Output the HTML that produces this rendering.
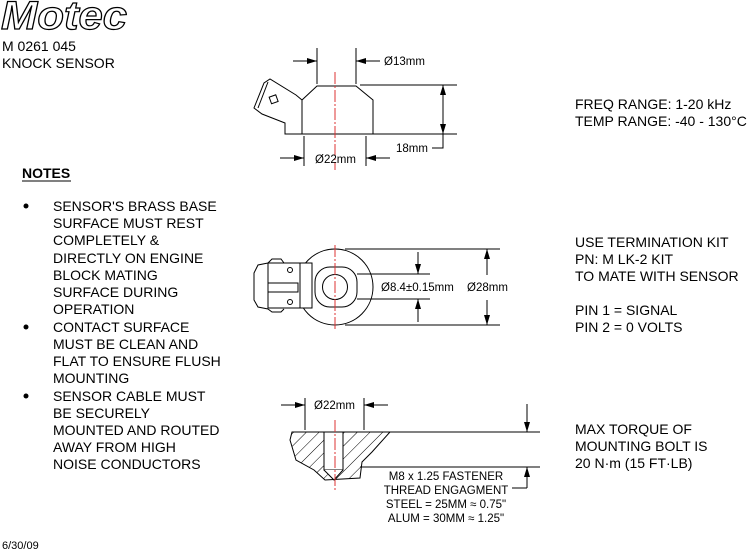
<!DOCTYPE html>
<html><head><meta charset="utf-8"><style>
body{margin:0;background:#fff}
svg{display:block}
text{font-family:"Liberation Sans",Arial,sans-serif;fill:#000}
</style></head><body>
<svg width="750" height="552" viewBox="0 0 750 552" xmlns="http://www.w3.org/2000/svg">
<defs>
<marker id="a" viewBox="0 0 10 6" refX="10" refY="3" markerWidth="10" markerHeight="6" orient="auto" markerUnits="userSpaceOnUse"><path d="M0,0 L10,3 L0,6 z" fill="#000"/></marker>
<pattern id="h" width="9" height="9" patternUnits="userSpaceOnUse" patternTransform="rotate(45)"><line x1="0" y1="0" x2="0" y2="9" stroke="#000" stroke-width="1"/></pattern>
</defs>
<text x="1" y="29" font-size="40" font-style="italic" font-weight="bold" textLength="126" lengthAdjust="spacingAndGlyphs" stroke="#000" stroke-width="1.2" style="fill:#fff">Motec</text>
<text x="2" y="51" font-size="14">M 0261 045</text>
<text x="2" y="68" font-size="14">KNOCK SENSOR</text>

<text x="22" y="178" font-size="14" font-weight="bold">NOTES</text>
<line x1="22" y1="181" x2="71" y2="181" stroke="#000" stroke-width="1"/>
<g font-size="14">
<circle cx="26" cy="206" r="2.5" fill="#000"/>
<text x="53" y="211">SENSOR'S BRASS BASE</text>
<text x="53" y="228">SURFACE MUST REST</text>
<text x="53" y="245">COMPLETELY &amp;</text>
<text x="53" y="263">DIRECTLY ON ENGINE</text>
<text x="53" y="280">BLOCK MATING</text>
<text x="53" y="297">SURFACE DURING</text>
<text x="53" y="314">OPERATION</text>
<circle cx="26" cy="327" r="2.5" fill="#000"/>
<text x="53" y="332">CONTACT SURFACE</text>
<text x="53" y="349">MUST BE CLEAN AND</text>
<text x="53" y="366">FLAT TO ENSURE FLUSH</text>
<text x="53" y="383">MOUNTING</text>
<circle cx="26" cy="396" r="2.5" fill="#000"/>
<text x="53" y="401">SENSOR CABLE MUST</text>
<text x="53" y="418">BE SECURELY</text>
<text x="53" y="435">MOUNTED AND ROUTED</text>
<text x="53" y="452">AWAY FROM HIGH</text>
<text x="53" y="469">NOISE CONDUCTORS</text>
</g>
<text x="2" y="549" font-size="11">6/30/09</text>

<g font-size="14">
<text x="575" y="109">FREQ RANGE: 1-20 kHz</text>
<text x="575" y="126">TEMP RANGE: -40 - 130°C</text>
<text x="575" y="247">USE TERMINATION KIT</text>
<text x="575" y="264">PN: M LK-2 KIT</text>
<text x="575" y="281">TO MATE WITH SENSOR</text>
<text x="575" y="315">PIN 1 = SIGNAL</text>
<text x="575" y="332">PIN 2 = 0 VOLTS</text>
<text x="575" y="434">MAX TORQUE OF</text>
<text x="575" y="451">MOUNTING BOLT IS</text>
<text x="575" y="468">20 N·m (15 FT·LB)</text>
</g>

<g fill="none" stroke="#000" stroke-width="1">
<!-- top view -->
<path d="M302,134 L302,100 L317,86 L356,86 L373,100 L373,134 Z"/>
<path d="M302,100 L296,95 L270,79 L264,83 L254,108 L262,114 L285,123 L285,134 L302,134"/>
<path d="M268,82 L258,108"/>
<rect x="270" y="96" width="7" height="7" transform="rotate(-20 273 99)"/>
<line x1="317" y1="48" x2="317" y2="84"/><line x1="356" y1="48" x2="356" y2="84"/>
<line x1="293" y1="61" x2="317" y2="61" marker-end="url(#a)"/>
<line x1="380" y1="61" x2="356" y2="61" marker-end="url(#a)"/>
<line x1="360" y1="85" x2="457" y2="85"/><line x1="373" y1="134" x2="457" y2="134"/>
<line x1="443" y1="110" x2="443" y2="85" marker-end="url(#a)"/>
<line x1="443" y1="110" x2="443" y2="134" marker-end="url(#a)"/>
<polyline points="432,148 443,148 443,134"/>
<line x1="304" y1="136" x2="304" y2="166"/><line x1="366" y1="136" x2="366" y2="166"/>
<line x1="280" y1="158" x2="304" y2="158" marker-end="url(#a)"/>
<line x1="390" y1="158" x2="366" y2="158" marker-end="url(#a)"/>

<!-- middle view -->
<circle cx="335" cy="287" r="38"/>
<rect x="315" y="267" width="42" height="40" rx="15"/>
<circle cx="335" cy="287" r="12.5"/>
<rect x="268" y="263" width="44" height="45" fill="#fff"/>
<line x1="300" y1="263" x2="300" y2="308"/>
<path d="M268,263 L258,265 L254,273 L254,300 L258,307 L268,309"/>
<path d="M268,263 L272,259 L281,259 L284,263 M268,309 L272,312 L281,312 L284,309"/>
<rect x="268" y="283" width="30" height="9"/>
<circle cx="290" cy="270" r="2.5"/><circle cx="290" cy="302" r="2.5"/>
<line x1="345" y1="249" x2="500" y2="249"/><line x1="345" y1="325" x2="500" y2="325"/>
<line x1="357" y1="274" x2="430" y2="274"/><line x1="357" y1="299" x2="430" y2="299"/>
<line x1="418" y1="252" x2="418" y2="274" marker-end="url(#a)"/>
<line x1="418" y1="322" x2="418" y2="299" marker-end="url(#a)"/>
<line x1="487" y1="275" x2="487" y2="249" marker-end="url(#a)"/>
<line x1="487" y1="300" x2="487" y2="325" marker-end="url(#a)"/>

<!-- bottom view -->
<path d="M292,432 L390,432 L372,452 L362,462 L360,478 L325,480 L314,470 L296,460 L290,440 Z" fill="url(#h)"/>
<rect x="324" y="432" width="19" height="38" fill="#fff"/>
<path d="M324,470 L334,480 L343,470" fill="#fff"/>
<line x1="305" y1="398" x2="305" y2="430"/><line x1="364" y1="398" x2="364" y2="430"/>
<line x1="281" y1="405" x2="305" y2="405" marker-end="url(#a)"/>
<line x1="388" y1="405" x2="364" y2="405" marker-end="url(#a)"/>
<line x1="370" y1="432" x2="540" y2="432"/><line x1="360" y1="467" x2="540" y2="467"/>
<line x1="527" y1="404" x2="527" y2="432" marker-end="url(#a)"/>
<line x1="527" y1="488" x2="527" y2="467" marker-end="url(#a)"/>
<line x1="512" y1="488" x2="527" y2="488"/>
</g>
<g stroke="#d33" stroke-width="1" stroke-dasharray="12,2,2,2">
<line x1="335" y1="72" x2="335" y2="170"/>
<line x1="335" y1="245" x2="335" y2="330"/>
<line x1="335" y1="420" x2="335" y2="490"/>
</g>
<g font-size="11.5">
<text x="384" y="65">Ø13mm</text>
<text x="396" y="152">18mm</text>
<text x="315" y="163">Ø22mm</text>
<text x="381" y="291">Ø8.4±0.15mm</text>
<text x="467" y="291">Ø28mm</text>
<text x="314" y="409">Ø22mm</text>
<text x="446" y="480" text-anchor="middle">M8 x 1.25 FASTENER</text>
<text x="446" y="494" text-anchor="middle">THREAD ENGAGMENT</text>
<text x="446" y="508" text-anchor="middle">STEEL = 25MM ≈ 0.75"</text>
<text x="446" y="522" text-anchor="middle">ALUM = 30MM ≈ 1.25"</text>
</g>
</svg>
</body></html>
